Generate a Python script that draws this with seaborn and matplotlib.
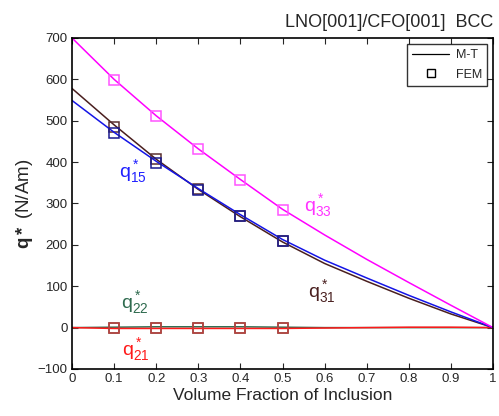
import numpy as np
import pandas as pd
import matplotlib
matplotlib.use("Agg")
import matplotlib.pyplot as plt
from matplotlib.lines import Line2D
import seaborn as sns

# M-T curves
vf = [0.0, 0.1, 0.2, 0.3, 0.4, 0.5, 0.6, 0.7, 0.8, 0.9, 1.0]
q33_mt = [700, 600, 512, 432, 358, 286, 224, 165, 109, 54, 0]
q15_mt = [549, 472, 402, 336, 273, 213, 163, 120, 78, 38, 0]
q31_mt = [578, 490, 407, 334, 268, 207, 155, 112, 71, 33, 0]
q22_mt = [0, 1, 2, 2, 2, 1, 0, 0, 0, 0, 0]
q21_mt = [0, -2, -2, -2, -2, -2, -1, 0, 1, 1, 0]

# FEM points
vf_fem = [0.1, 0.2, 0.3, 0.4, 0.5]
q33_fem = [598, 512, 431, 357, 285]
q15_fem = [470, 397, 332, 269, 210]
q31_fem = [486, 407, 336, 270, 210]
q22_fem = [0, 0, 0, 0, 0]
q21_fem = [0, 0, 0, 0, 0]

series = {
    "q22": (q22_mt, q22_fem, "#2f6b4f", "#2f6b4f"),
    "q21": (q21_mt, q21_fem, "#ff1a1a", "#c83c3c"),
    "q31": (q31_mt, q31_fem, "#4a1f1f", "#5a3030"),
    "q15": (q15_mt, q15_fem, "#1414e6", "#1a1a90"),
    "q33": (q33_mt, q33_fem, "#ff00ff", "#ff55ff"),
}

labels = [
    ("q^*_{15}", 0.145, 376, "#2020ff"),
    ("q^*_{33}", 0.584, 296, "#ff33ff"),
    ("q^*_{31}", 0.594, 86, "#4a2020"),
    ("q^*_{22}", 0.150, 60, "#2f6b4f"),
    ("q^*_{21}", 0.152, -52, "#ff1a1a"),
]

sns.set_style("ticks")
plt.rcParams["font.family"] = ["Liberation Sans", "DejaVu Sans"]
plt.rcParams["mathtext.fontset"] = "custom"
plt.rcParams["mathtext.rm"] = "Liberation Sans"
plt.rcParams["mathtext.it"] = "Liberation Sans"
plt.rcParams["mathtext.bf"] = "Liberation Sans:bold"

fig = plt.figure(figsize=(4.99, 4.16), dpi=100)
ax = fig.add_axes([0.1443, 0.113, 0.8437, 0.7957])

for name, (mt, fem, lc, mc) in series.items():
    df = pd.DataFrame({"vf": vf, "q": mt})
    sns.lineplot(data=df, x="vf", y="q", color=lc, linewidth=1.1, ax=ax)
    dff = pd.DataFrame({"vf": vf_fem, "q": fem})
    ax.plot(dff["vf"], dff["q"], linestyle="none", marker="s", markersize=7.5,
            markerfacecolor="none", markeredgecolor=mc, markeredgewidth=1.1)

for txt, x, y, c in labels:
    ax.text(x, y, r"$\mathregular{" + txt + "}$", color=c, fontsize=14,
            ha="center", va="center")

ax.set_xlim(0, 1)
ax.set_ylim(-100, 700)
ax.set_xticks(np.arange(0, 1.01, 0.1))
ax.set_xticklabels(["0", "0.1", "0.2", "0.3", "0.4", "0.5", "0.6", "0.7", "0.8", "0.9", "1"])
ax.set_yticks(np.arange(-100, 701, 100))
ax.tick_params(direction="in", top=True, right=True, labelsize=9.5, length=4,
               width=0.8, pad=3)
for s in ax.spines.values():
    s.set_linewidth(1.2)
    s.set_color("black")

ax.set_xlabel("Volume Fraction of Inclusion", fontsize=12.5, labelpad=2)
ax.set_ylabel(r"$\mathbf{q*}$ (N/Am)", fontsize=13.5, labelpad=2)
ax.set_title("LNO[001]/CFO[001]  BCC", loc="right", fontsize=13, pad=8)

handles = [
    Line2D([], [], color="black", linewidth=0.9),
    Line2D([], [], linestyle="none", marker="s", markersize=6,
           markerfacecolor="none", markeredgecolor="black"),
]
leg = ax.legend(handles, ["M-T", "FEM"], loc="upper right", fontsize=9,
                frameon=True, fancybox=False, edgecolor="black",
                borderaxespad=0.5, handlelength=3.0, handletextpad=0.5,
                labelspacing=0.6)
leg.get_frame().set_linewidth(1.0)

fig.savefig("out.png", dpi=100)
